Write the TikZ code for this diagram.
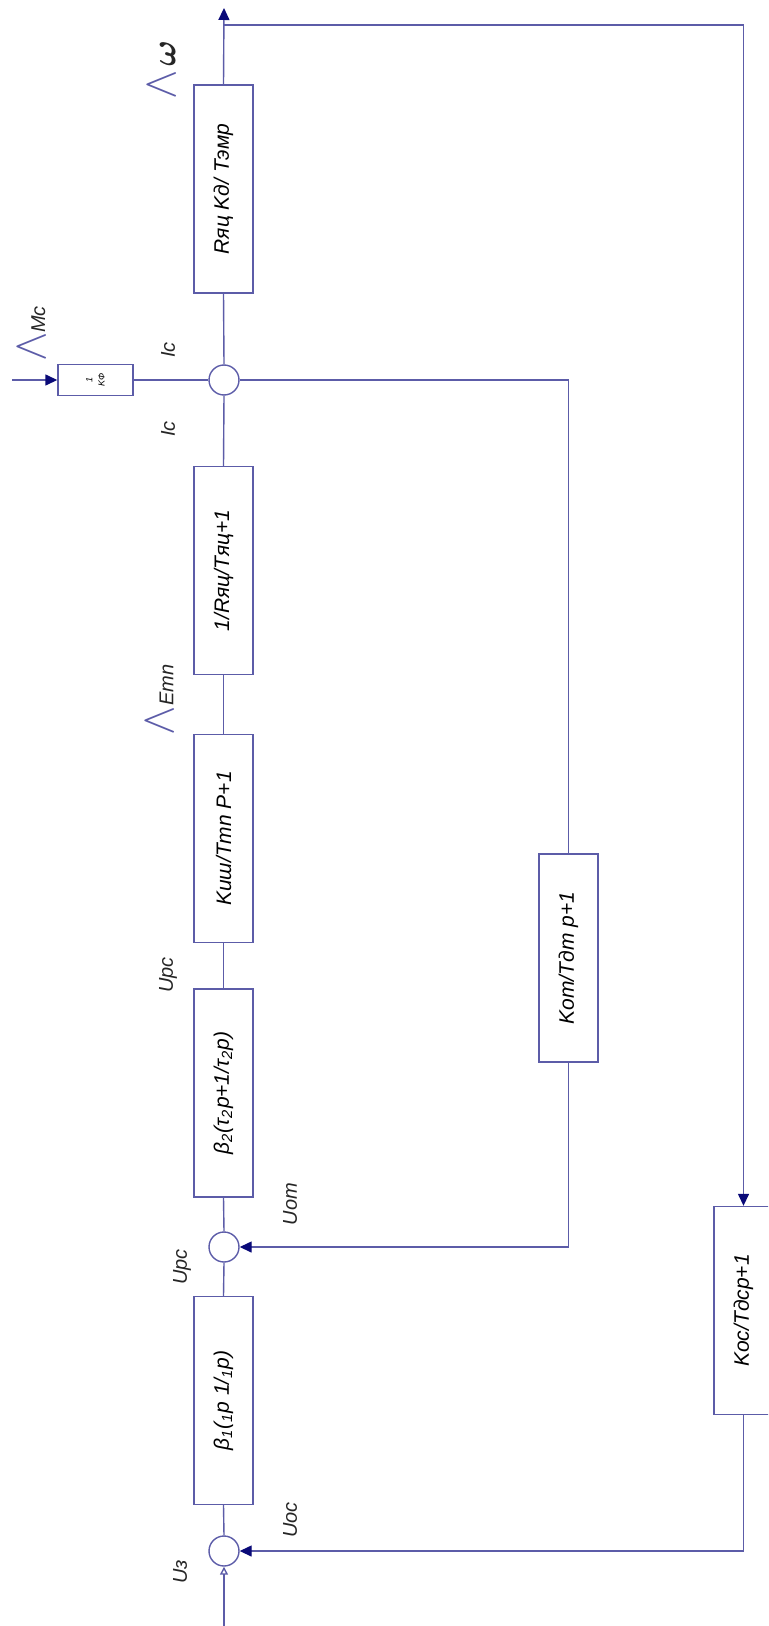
\documentclass[tikz,border=0pt]{standalone}
\usepackage{fontspec}
\setmainfont{Liberation Sans}
\usetikzlibrary{arrows.meta}
\definecolor{lc}{RGB}{92,92,168}
\definecolor{tc}{RGB}{10,10,120}
\newcommand{\incr}{{\color{lc}\scalebox{2.2}[2.4]{$\wedge$}}}

\begin{document}
\begin{tikzpicture}[x=0.5pt, y=-0.5pt,
		blk/.style = {rectangle, draw=lc, line width=0.7pt, minimum width=29.5pt, minimum height=104pt, inner sep=0pt, font=\itshape\fontsize{10.5}{12}\selectfont},
		smr/.style = {circle, draw=lc, line width=0.7pt, minimum size=15pt, inner sep=0pt},
		lbl/.style = {rotate=90, inner sep=0pt, text=black!85, font=\itshape\fontsize{10}{12}\selectfont},
		ln/.style = {draw=lc, line width=0.7pt},
		ar/.style = {ln, -{Triangle[length=6pt, width=5.5pt, color=tc]}},
		aro/.style = {ln, -{Triangle[open, length=4pt, width=4pt]}}
		]
		\useasboundingbox (0,0) rectangle (768,1626);
		\clip (0,0) rectangle (768,1626);
		
		%Nodes
		\node[blk]	(rb)	at	(223.5, 189)	{\rotatebox{90}{Rяц Kд/ Tэмр}};
		\node[smr]	(s1)	at	(224, 380)		{};
		\node[blk]	(ry)	at	(223.5, 570.5)	{\rotatebox{90}{1/Rяц/Tяц+1}};
		\node[blk]	(ki)	at	(223.5, 838.5)	{\rotatebox{90}{Kиш/Tmn P+1}};
		\node[blk]	(b2)	at	(223.5, 1093)	{\rotatebox{90}{β\textsubscript{2}(τ\textsubscript{2}p+1/τ\textsubscript{2}p)}};
		\node[smr]	(s2)	at	(224, 1247)		{};
		\node[blk]	(b1)	at	(223.5, 1400.5)	{\rotatebox{90}{β\textsubscript{1}(\textsubscript{1}p 1/\textsubscript{1}p)}};
		\node[smr]	(s3)	at	(224, 1551)		{};
		\node[blk]	(kot)	at	(568.5, 958)	{\rotatebox{90}{Kom/Tдm p+1}};
		\node[blk]	(koc)	at	(743.5, 1310.5)	{\rotatebox{90}{Koc/Tдcp+1}};
		\node[blk, minimum width=37.5pt, minimum height=15.5pt]	(kf)	at	(95.5, 380)	{\rotatebox{90}{\fontsize{4.5}{5}\selectfont\shortstack{1\\KФ}}};
		
		\coordinate	(wout)	at	(224, 8);
		\coordinate	(tl)	at	(224, 25);
		\coordinate	(mc)	at	(12, 380);
		\coordinate	(uin)	at	(224, 1626);
		
		%Labels
		\node[lbl]	(lw)	at	(162, 70)	{\incr\,{\fontsize{18}{18}\selectfont\boldmath$\omega$}};
		\node[lbl]	(lm)	at	(32, 334)	{\incr Mc};
		\node[lbl]	(li1)	at	(168, 350)	{Ic};
		\node[lbl]	(li2)	at	(168, 429)	{Ic};
		\node[lbl]	(le)	at	(160, 700)	{\incr Emn};
		\node[lbl]	(lu1)	at	(168, 975)	{Upc};
		\node[lbl]	(lom)	at	(290, 1204)	{Uom};
		\node[lbl]	(lu2)	at	(182, 1267)	{Upc};
		\node[lbl]	(loc)	at	(290, 1520)	{Uoc};
		\node[lbl]	(lz)	at	(180, 1572)	{Uз};
		
		%Lines
		\draw[aro]	(uin)		--	(s3.south);
		\draw[ln]	(s3.north)	--	(b1.south);
		\draw[ln]	(b1.north)	--	(s2.south);
		\draw[ln]	(s2.north)	--	(b2.south);
		\draw[ln]	(b2.north)	--	(ki.south);
		\draw[ln]	(ki.north)	--	(ry.south);
		\draw[ln]	(ry.north)	--	(s1.south);
		\draw[ln]	(s1.north)	--	(rb.south);
		\draw[ar]	(rb.north)	--	(wout);
		\draw[ar]	(mc)		--	(kf.west);
		\draw[ln]	(kf.east)	--	(s1.west);
		\draw[ln]	(s1.east)	-|	(kot.north);
		\draw[ar]	(kot.south)	|-	(s2.east);
		\draw[ar]	(tl)		-|	(koc.north);
		\draw[ar]	(koc.south)	|-	(s3.east);
\end{tikzpicture}
\end{document}
